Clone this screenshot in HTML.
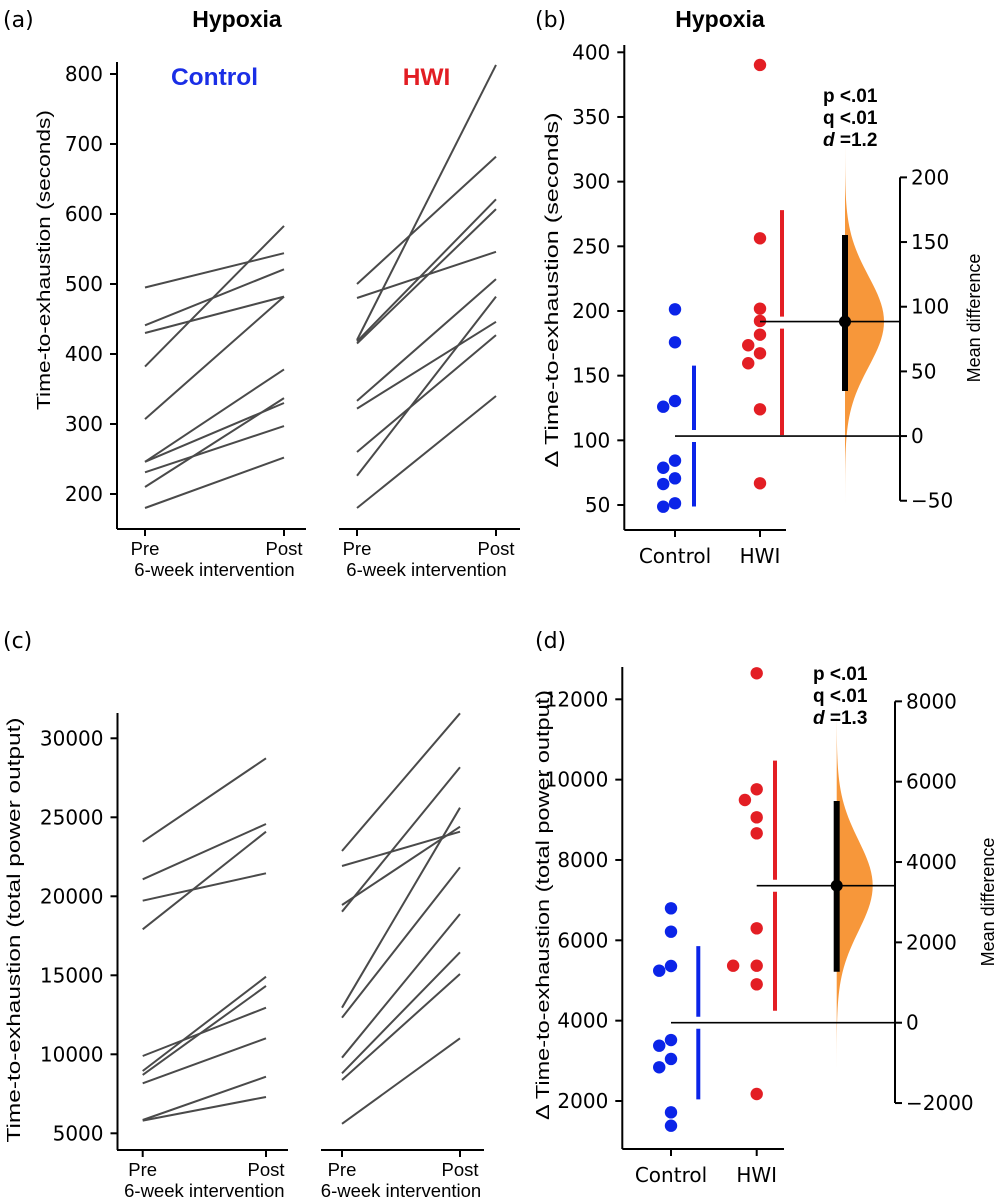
<!DOCTYPE html>
<html><head><meta charset="utf-8"><style>
html,body{margin:0;padding:0;background:#fff;}
svg{display:block;}
text{font-family:"DejaVu Sans",sans-serif;}
.ar{font-family:"Liberation Sans",sans-serif;}
</style></head><body>
<svg id="fig" width="1000" height="1204" viewBox="0 0 1000 1204" xmlns="http://www.w3.org/2000/svg"></svg>
<script>
// ---------- Data ----------
const prePostLabels = ["Pre","Post"];
const groupLabels = ["Control","HWI"];
// Panel (a) seconds
const aTicks = [200,300,400,500,600,700,800];
const aCtrlPre  = [495,441,430,382,307,246,246,231,210,180];
const aCtrlPost = [544,521,482,583,482,378,330,297,337,252];
const aHwiPre   = [500,480,420,418,415,333,322,260,226,180];
const aHwiPost  = [682,546,813,621,607,507,446,427,482,340];
// Panel (c) total power output
const cTicks = [5000,10000,15000,20000,25000,30000];
const cCtrlPre  = [23456,21076,19722,17911,9892,8943,8690,8165,5842,5800];
const cCtrlPost = [28734,24576,21456,24089,12950,14911,14323,11013,8584,7300];
const cHwiPre   = [22867,21918,19450,19026,12950,12317,9786,8797,8373,5600];
const cHwiPost  = [31582,24089,24405,28165,25608,21835,18880,16456,15082,11013];
// Panel (b) deltas
const bTicks = [50,100,150,200,250,300,350,400];
const bDiffTicks = [-50,0,50,100,150,200];
const bCtrl = [201.3,175.8,130.4,126.0,84.3,78.8,70.6,66.2,51.3,48.7];
const bHwi  = [390.2,256.2,201.8,192.3,181.7,173.5,167.3,159.6,124.0,66.8];
const bMeans = [103.3,191.0];
const bSds = [54.5,87.0];
const bDiff = 88.5, bCiLo = 34.8, bCiHi = 155.4, bBootSd = 35;
const bStats = ["p <.01","q <.01","=1.2"];
// Panel (d) deltas
const dTicks = [2000,4000,6000,8000,10000,12000];
const dDiffTicks = [-2000,0,2000,4000,6000,8000];
const dCtrl = [6797,6215,5361,5244,3518,3377,3046,2839,1718,1385];
const dHwi  = [12648,9760,9493,9062,8664,6299,5368,5368,4905,2174];
const dMeans = [3949,7360];
const dSds = [1908,3112];
const dDiff = 3411, dCiLo = 1270, dCiHi = 5519, dBootSd = 1130;
const dStats = ["p <.01","q <.01","=1.3"];

// ---------- helpers ----------
const NS = "http://www.w3.org/2000/svg";
const svg = document.getElementById('fig');
function el(tag, attrs, parent){
  const e = document.createElementNS(NS, tag);
  for (const k in attrs) e.setAttribute(k, attrs[k]);
  (parent||svg).appendChild(e);
  return e;
}
function txt(s, attrs, parent){ const t = el('text', attrs, parent); t.textContent = s; return t; }
function lin(v0,v1,p0,p1){ return v => p0 + (v - v0) * (p1 - p0) / (v1 - v0); }

// ---------- titles ----------
let t;
t = txt("(a)", {x:3, y:27, 'font-size':22});  
t = txt("(b)", {x:535, y:27, 'font-size':22});  
t = txt("(c)", {x:3, y:648, 'font-size':22});  
t = txt("(d)", {x:535, y:648, 'font-size':22});  
t = txt("Hypoxia", {x:237, y:27, 'font-size':23, 'font-weight':'bold', 'text-anchor':'middle', class:'ar'});  
t = txt("Hypoxia", {x:720, y:27, 'font-size':23, 'font-weight':'bold', 'text-anchor':'middle', class:'ar'});  

// ---------- paired panels ----------
function paired(cfg){
  const g = el('g', {});
  
  
  const y = lin(cfg.tv0, cfg.tv1, cfg.ty0, cfg.ty1);
  const ax = el('line', {x1:cfg.ax, y1:cfg.spineTop, x2:cfg.ax, y2:cfg.base, stroke:'#000','stroke-width':2}, g);
   
  cfg.ticks.forEach(v=>{
    el('line',{x1:cfg.ax-7,y1:y(v),x2:cfg.ax,y2:y(v),stroke:'#000','stroke-width':2},g);
    const tl = txt(String(v), {x:cfg.ax-14, y:y(v)+7, 'font-size':20, 'text-anchor':'end'}, g);
     
  });
  const yt = txt(cfg.ylabel, {x:0,y:0,'font-size':18,'text-anchor':'middle',class:'ar',textLength:cfg.ylen,lengthAdjust:'spacingAndGlyphs',transform:`translate(${cfg.ylx},${cfg.ylc}) rotate(-90)`}, g);
   
  cfg.groups.forEach((gr,gi)=>{
    const sub = el('g',{},g);
    
    
    const xl = el('line',{x1:gr.lx0,y1:cfg.base,x2:gr.lx1,y2:cfg.base,stroke:'#000','stroke-width':2},sub);
     
    [gr.xPre, gr.xPost].forEach((xx,i)=>{
      el('line',{x1:xx,y1:cfg.base,x2:xx,y2:cfg.base+7,stroke:'#000','stroke-width':2},sub);
      const lb = txt(prePostLabels[i],{x:xx,y:cfg.base+26,'font-size':18.5,'text-anchor':'middle',class:'ar'},sub);
       
    });
    const xt = txt("6-week intervention",{x:(gr.xPre+gr.xPost)/2,y:cfg.base+47,'font-size':18.5,'text-anchor':'middle',class:'ar'},sub);
     
    gr.pre.forEach((v,i)=>{
      const l = el('line',{x1:gr.xPre,y1:y(v),x2:gr.xPost,y2:y(gr.post[i]),stroke:'#4a4a4a','stroke-width':2},sub);
       
    });
    if (gr.title){
      const tt = txt(gr.title,{x:(gr.xPre+gr.xPost)/2,y:cfg.titleY,'font-size':24.5,'font-weight':'bold','text-anchor':'middle',fill:gr.color,class:'ar'},sub);
       
    }
  });
}
paired({name:'panel-a', tv0:200, tv1:800, ty0:494, ty1:74, ax:117, spineTop:62, base:529, ticks:aTicks,
  ylabel:"Time-to-exhaustion (seconds)", ylx:50, ylc:260, ylen:300, titleY:85,
  groups:[{xPre:145,xPost:284,lx0:117,lx1:306,pre:aCtrlPre,post:aCtrlPost,title:"Control",color:'#1a2ee6'},
          {xPre:357,xPost:496,lx0:339,lx1:520,pre:aHwiPre,post:aHwiPost,title:"HWI",color:'#e21d23'}]});
paired({name:'panel-c', tv0:5000, tv1:30000, ty0:1133.3, ty1:738.3, ax:117.5, spineTop:713, base:1150, ticks:cTicks,
  ylabel:"Time-to-exhaustion (total power output)", ylx:20, ylc:930, ylen:425, titleY:0,
  groups:[{xPre:142.7,xPost:266,lx0:117,lx1:288,pre:cCtrlPre,post:cCtrlPost},
          {xPre:342,xPost:460,lx0:321,lx1:484,pre:cHwiPre,post:cHwiPost}]});

// ---------- estimation panels ----------
function swarm(vals, cx, y, r){
  const placed = [];
  const order = vals.map((v,i)=>i).sort((a,b)=>vals[b]-vals[a]);
  const out = new Array(vals.length);
  order.forEach(i=>{
    const py = y(vals[i]);
    const cands = [0];
    for (let k=1;k<8;k++){ cands.push(-k*r*1.9); cands.push(k*r*1.9); }
    for (const off of cands){
      const px = cx + off;
      if (placed.every(p=>Math.hypot(p[0]-px,p[1]-py) >= 2*r-0.5)){ placed.push([px,py]); out[i]=[px,py]; break; }
    }
  });
  return out;
}
function estimation(cfg){
  const g = el('g',{});
  
  
  const y = lin(cfg.tv0,cfg.tv1,cfg.ty0,cfg.ty1);
  const ax = el('line',{x1:cfg.ax,y1:cfg.spineTop,x2:cfg.ax,y2:cfg.base,stroke:'#000','stroke-width':2},g);
   
  cfg.ticks.forEach(v=>{
    el('line',{x1:cfg.ax-7,y1:y(v),x2:cfg.ax,y2:y(v),stroke:'#000','stroke-width':2},g);
    const tl = txt(String(v),{x:cfg.ax-14,y:y(v)+7,'font-size':20,'text-anchor':'end'},g);
     
  });
  const yt = txt(cfg.ylabel,{x:0,y:0,'font-size':18,'text-anchor':'middle',class:'ar',textLength:cfg.ylen,lengthAdjust:'spacingAndGlyphs',transform:`translate(${cfg.ylx},${cfg.ylc}) rotate(-90)`},g);
   
  const xl = el('line',{x1:cfg.ax,y1:cfg.base,x2:cfg.xEnd,y2:cfg.base,stroke:'#000','stroke-width':2},g);
   
  cfg.cx.forEach((xx,i)=>{
    el('line',{x1:xx,y1:cfg.base,x2:xx,y2:cfg.base+7,stroke:'#000','stroke-width':2},g);
    const lb = txt(groupLabels[i],{x:xx,y:cfg.base+33,'font-size':20,'text-anchor':'middle'},g);
     
  });
  const colors = ['#0b24e8','#e31e24'];
  [cfg.ctrl, cfg.hwi].forEach((vals,gi)=>{
    const pos = swarm(vals, cfg.cx[gi], y, 6.2);
    vals.forEach((v,i)=>{
      const c = el('circle',{cx:pos[i][0],cy:pos[i][1],r:6.2,fill:colors[gi]},g);
       
    });
    const bx = cfg.sdx[gi], m = cfg.means[gi], s = cfg.sds[gi];
    const top = el('line',{x1:bx,y1:y(m+s),x2:bx,y2:y(m)-6,stroke:colors[gi],'stroke-width':4},g);
     
    const bot = el('line',{x1:bx,y1:y(m)+6,x2:bx,y2:y(m-s),stroke:colors[gi],'stroke-width':4},g);
     
  });
  const base0 = cfg.means[0];
  const yd = v => y(base0 + v);
  const rax = el('line',{x1:cfg.rax,y1:yd(cfg.dTicks[cfg.dTicks.length-1]),x2:cfg.rax,y2:yd(cfg.dTicks[0]),stroke:'#000','stroke-width':2},g);
   
  cfg.dTicks.forEach(v=>{
    el('line',{x1:cfg.rax,y1:yd(v),x2:cfg.rax+7,y2:yd(v),stroke:'#000','stroke-width':2},g);
    const tl = txt(String(v).replace('-','\u2212'),{x:cfg.rax+11,y:yd(v)+7,'font-size':20},g);
     
  });
  const rt = txt("Mean difference",{x:0,y:0,'font-size':18,'text-anchor':'middle',class:'ar',transform:`translate(${cfg.rlx},${cfg.rlc}) rotate(-90)`},g);
   
  const vx = cfg.vx, sd = cfg.bootSd, W = cfg.vWidth;
  let d = `M ${vx} ${yd(cfg.diff+4*sd)}`;
  for (let k=-4;k<=4.001;k+=0.1){
    const v = cfg.diff - k*sd;
    const w = W*Math.exp(-k*k/2);
    d += ` L ${vx+w} ${yd(v)}`;
  }
  d += ` L ${vx} ${yd(cfg.diff-4*sd)} Z`;
  const vio = el('path',{d:d,fill:'#f7973a'},g);
   
  const zl = el('line',{x1:cfg.cx[0],y1:yd(0),x2:cfg.rax,y2:yd(0),stroke:'#000','stroke-width':1.6},g);
   
  const ml = el('line',{x1:cfg.cx[1],y1:yd(cfg.diff),x2:cfg.rax,y2:yd(cfg.diff),stroke:'#000','stroke-width':1.6},g);
   
  const ci = el('line',{x1:vx,y1:yd(cfg.ciHi),x2:vx,y2:yd(cfg.ciLo),stroke:'#000','stroke-width':6},g);
   
  const md = el('circle',{cx:vx,cy:yd(cfg.diff),r:6,fill:'#000'},g);
   
  cfg.stats.forEach((s,i)=>{
    const st = txt(i===2?'':s,{x:cfg.sx,y:cfg.sy+i*22,'font-size':19,'font-weight':'bold',class:'ar'},g);
    if (i===2){
      const a = el('tspan',{'font-style':'italic'},st); a.textContent='d ';
      const b = el('tspan',{},st); b.textContent=s;
    }
     
  });
}
estimation({name:'panel-b', tv0:50, tv1:400, ty0:505, ty1:52.3, ax:624.3, spineTop:45, base:530, xEnd:786, ticks:bTicks,
  ylabel:"\u0394 Time-to-exhaustion (seconds)", ylx:558, ylc:290, ylen:355, cx:[675,760], sdx:[694,782],
  ctrl:bCtrl, hwi:bHwi, means:bMeans, sds:bSds, rax:900, dTicks:bDiffTicks, rlx:980, rlc:318,
  vx:845, bootSd:bBootSd, vWidth:39, diff:bDiff, ciLo:bCiLo, ciHi:bCiHi, stats:bStats, sx:823, sy:102});
estimation({name:'panel-d', tv0:2000, tv1:12000, ty0:1101, ty1:699.3, ax:622.3, spineTop:667, base:1149, xEnd:784, ticks:dTicks,
  ylabel:"\u0394 Time-to-exhaustion (total power output)", ylx:549, ylc:905, ylen:430, cx:[671,756.7], sdx:[698.3,775],
  ctrl:dCtrl, hwi:dHwi, means:dMeans, sds:dSds, rax:895, dTicks:dDiffTicks, rlx:994, rlc:902,
  vx:836.7, bootSd:dBootSd, vWidth:36, diff:dDiff, ciLo:dCiLo, ciHi:dCiHi, stats:dStats, sx:813, sy:680});
</script>
</body></html>
